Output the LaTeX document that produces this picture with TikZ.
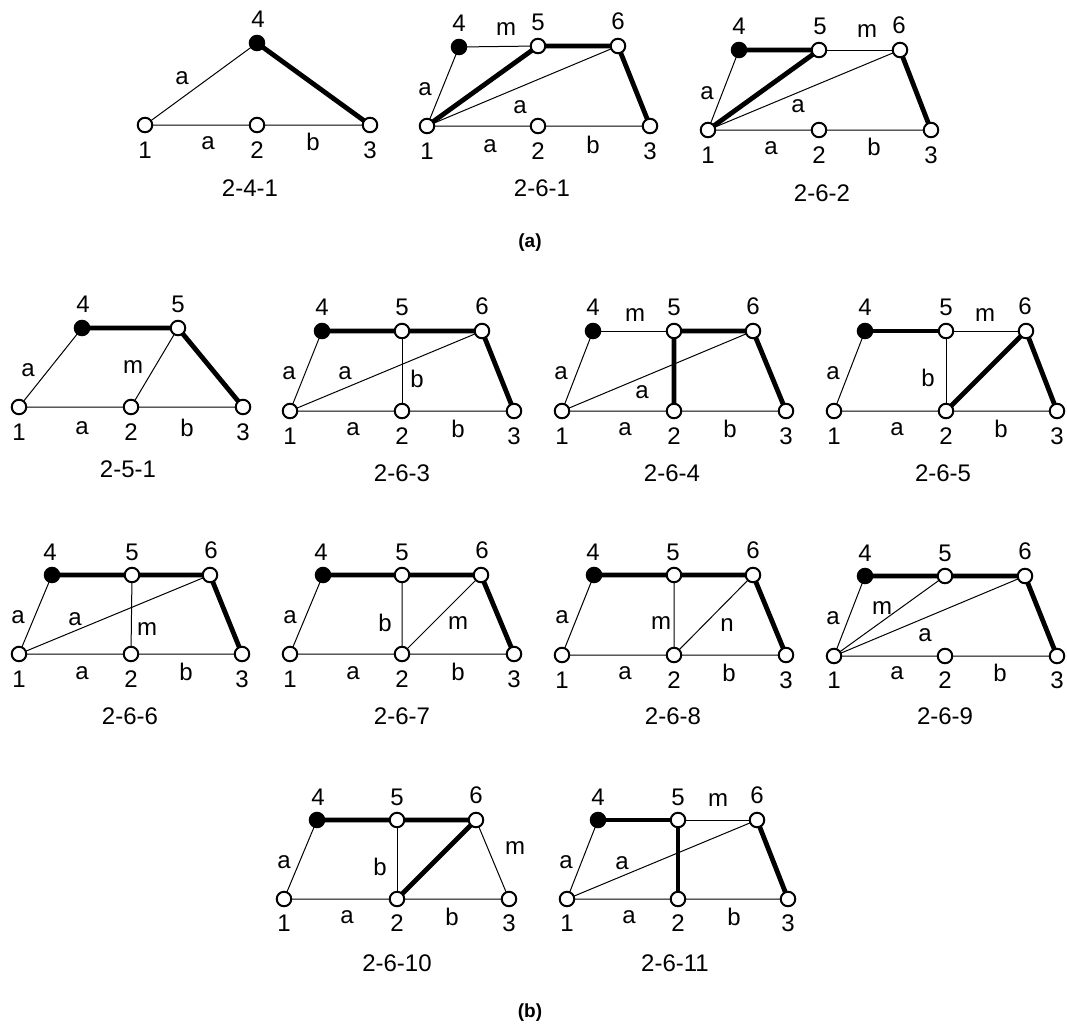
\documentclass[tikz,border=0pt]{standalone}
\usepackage{fontspec}
\setmainfont{Liberation Sans}
\pgfdeclarelayer{edges}
\pgfsetlayers{edges,main}
\tikzset{
  vtx/.style={circle,draw,line width=2pt,fill=white,minimum size=14.5pt,inner sep=0pt},
  hub/.style={vtx,fill=black},
  lnk/.style={line width=1pt,line join=round},
  heavy/.style={line width=4.8pt,line join=round},
  lbl/.style={inner sep=0pt,font=\fontsize{24}{28}\selectfont},
  ttl/.style={inner sep=0pt,font=\fontsize{24}{28}\selectfont},
  part/.style={inner sep=0pt,font=\fontsize{19}{22}\selectfont\bfseries},
}
\begin{document}
\begin{tikzpicture}[x=1pt,y=-1pt]
\useasboundingbox (0,0) rectangle (1067,1028);

% ---------- 2-4-1 ----------
\node[vtx] (A1) at (145,125) {};
\node[vtx] (A2) at (257,125) {};
\node[vtx] (A3) at (370,125) {};
\node[hub] (A4) at (257,43) {};
\begin{pgfonlayer}{edges}
\draw[lnk] (A4.center) -- (A1.center) -- (A2.center) -- (A3.center);
\draw[heavy] (A4.center) -- (A3.center);
\end{pgfonlayer}
\node[lbl] at (258,19) {4};
\node[lbl] at (182,78) {a};
\node[lbl] at (208,143) {a};
\node[lbl] at (313,142) {b};
\node[lbl] at (145,150) {1};
\node[lbl] at (257,150) {2};
\node[lbl] at (370,150) {3};
\node[ttl] (tA) at (250,188) {2-4-1};

% ---------- 2-6-1 ----------
\node[vtx] (B1) at (427,126) {};
\node[vtx] (B2) at (538,126) {};
\node[vtx] (B3) at (650,126) {};
\node[hub] (B4) at (459,47) {};
\node[vtx] (B5) at (538,46) {};
\node[vtx] (B6) at (618,46) {};
\begin{pgfonlayer}{edges}
\draw[lnk] (B4.center) -- (B1.center) -- (B2.center) -- (B3.center);
\draw[lnk] (B4.center) -- (B5.center);
\draw[lnk] (B1.center) -- (B6.center);
\draw[heavy] (B1.center) -- (B5.center) -- (B6.center) -- (B3.center);
\end{pgfonlayer}
\node[lbl] at (459,23) {4};
\node[lbl] at (506,29) {m};
\node[lbl] at (538,22) {5};
\node[lbl] at (618,21) {6};
\node[lbl] at (425,89) {a};
\node[lbl] at (520,107) {a};
\node[lbl] at (490,146) {a};
\node[lbl] at (593,145) {b};
\node[lbl] at (427,151) {1};
\node[lbl] at (538,151) {2};
\node[lbl] at (650,151) {3};
\node[ttl] (tB) at (542,188) {2-6-1};

% ---------- 2-6-2 ----------
\node[vtx] (C1) at (708,130) {};
\node[vtx] (C2) at (819,130) {};
\node[vtx] (C3) at (931,130) {};
\node[hub] (C4) at (739,50) {};
\node[vtx] (C5) at (819,50) {};
\node[vtx] (C6) at (900,50) {};
\begin{pgfonlayer}{edges}
\draw[lnk] (C4.center) -- (C1.center) -- (C2.center) -- (C3.center);
\draw[lnk] (C5.center) -- (C6.center);
\draw[lnk] (C1.center) -- (C6.center);
\draw[heavy] (C4.center) -- (C5.center) -- (C1.center);
\draw[heavy] (C6.center) -- (C3.center);
\end{pgfonlayer}
\node[lbl] at (739,26) {4};
\node[lbl] at (820,26) {5};
\node[lbl] at (867,31) {m};
\node[lbl] at (899,25) {6};
\node[lbl] at (707,93) {a};
\node[lbl] at (798,106) {a};
\node[lbl] at (771,148) {a};
\node[lbl] at (874,147) {b};
\node[lbl] at (708,155) {1};
\node[lbl] at (819,155) {2};
\node[lbl] at (931,155) {3};
\node[ttl] (tC) at (822,193) {2-6-2};

\node[part] (pa) at (530,243) {(a)};

% ---------- 2-5-1 ----------
\node[vtx] (D1) at (19,407) {};
\node[vtx] (D2) at (131,407) {};
\node[vtx] (D3) at (243,407) {};
\node[hub] (D4) at (82,328) {};
\node[vtx] (D5) at (178,328) {};
\begin{pgfonlayer}{edges}
\draw[lnk] (D4.center) -- (D1.center) -- (D2.center) -- (D3.center);
\draw[lnk] (D2.center) -- (D5.center);
\draw[heavy] (D4.center) -- (D5.center) -- (D3.center);
\end{pgfonlayer}
\node[lbl] at (83,304) {4};
\node[lbl] at (178,304) {5};
\node[lbl] at (28,370) {a};
\node[lbl] at (133,367) {m};
\node[lbl] at (82,428) {a};
\node[lbl] at (187,428) {b};
\node[lbl] at (19,432) {1};
\node[lbl] at (131,432) {2};
\node[lbl] at (243,432) {3};
\node[ttl] (tD) at (128,469) {2-5-1};

% ---------- 2-6-3 ----------
\node[vtx] (E1) at (290,411) {};
\node[vtx] (E2) at (402,411) {};
\node[vtx] (E3) at (514,411) {};
\node[hub] (E4) at (322,331) {};
\node[vtx] (E5) at (402,331) {};
\node[vtx] (E6) at (482,331) {};
\begin{pgfonlayer}{edges}
\draw[lnk] (E4.center) -- (E1.center) -- (E2.center) -- (E3.center);
\draw[lnk] (E1.center) -- (E6.center);
\draw[lnk] (E5.center) -- (E2.center);
\draw[heavy] (E4.center) -- (E5.center) -- (E6.center) -- (E3.center);
\end{pgfonlayer}
\node[lbl] at (322,307) {4};
\node[lbl] at (402,307) {5};
\node[lbl] at (482,306) {6};
\node[lbl] at (289,373) {a};
\node[lbl] at (345,373) {a};
\node[lbl] at (417,379) {b};
\node[lbl] at (353,429) {a};
\node[lbl] at (458,429) {b};
\node[lbl] at (290,436) {1};
\node[lbl] at (402,436) {2};
\node[lbl] at (514,436) {3};
\node[ttl] (tE) at (402,473) {2-6-3};

% ---------- 2-6-4 ----------
\node[vtx] (F1) at (562,411) {};
\node[vtx] (F2) at (674,411) {};
\node[vtx] (F3) at (786,411) {};
\node[hub] (F4) at (593,331) {};
\node[vtx] (F5) at (674,331) {};
\node[vtx] (F6) at (753,331) {};
\begin{pgfonlayer}{edges}
\draw[lnk] (F4.center) -- (F1.center) -- (F2.center) -- (F3.center);
\draw[lnk] (F4.center) -- (F5.center);
\draw[lnk] (F1.center) -- (F6.center);
\draw[heavy] (F2.center) -- (F5.center) -- (F6.center) -- (F3.center);
\end{pgfonlayer}
\node[lbl] at (593,307) {4};
\node[lbl] at (635,315) {m};
\node[lbl] at (674,307) {5};
\node[lbl] at (753,306) {6};
\node[lbl] at (561,373) {a};
\node[lbl] at (642,392) {a};
\node[lbl] at (625,429) {a};
\node[lbl] at (730,429) {b};
\node[lbl] at (562,436) {1};
\node[lbl] at (674,436) {2};
\node[lbl] at (786,436) {3};
\node[ttl] (tF) at (672,473) {2-6-4};

% ---------- 2-6-5 ----------
\node[vtx] (G1) at (834,411) {};
\node[vtx] (G2) at (946,411) {};
\node[vtx] (G3) at (1057,411) {};
\node[hub] (G4) at (865,331) {};
\node[vtx] (G5) at (946,331) {};
\node[vtx] (G6) at (1026,331) {};
\begin{pgfonlayer}{edges}
\draw[lnk] (G4.center) -- (G1.center) -- (G2.center) -- (G3.center);
\draw[lnk] (G2.center) -- (G5.center) -- (G6.center);
\draw[heavy] (G4.center) -- (G5.center);
\draw[heavy] (G2.center) -- (G6.center) -- (G3.center);
\end{pgfonlayer}
\node[lbl] at (865,307) {4};
\node[lbl] at (946,307) {5};
\node[lbl] at (985,315) {m};
\node[lbl] at (1025,306) {6};
\node[lbl] at (833,373) {a};
\node[lbl] at (928,378) {b};
\node[lbl] at (897,429) {a};
\node[lbl] at (1001,429) {b};
\node[lbl] at (834,436) {1};
\node[lbl] at (946,436) {2};
\node[lbl] at (1057,436) {3};
\node[ttl] (tG) at (943,473) {2-6-5};

% ---------- 2-6-6 ----------
\node[vtx] (H1) at (19,654) {};
\node[vtx] (H2) at (131,654) {};
\node[vtx] (H3) at (242,654) {};
\node[hub] (H4) at (52,575) {};
\node[vtx] (H5) at (132,575) {};
\node[vtx] (H6) at (210,575) {};
\begin{pgfonlayer}{edges}
\draw[lnk] (H4.center) -- (H1.center) -- (H2.center) -- (H3.center);
\draw[lnk] (H1.center) -- (H6.center);
\draw[lnk] (H5.center) -- (H2.center);
\draw[heavy] (H4.center) -- (H5.center) -- (H6.center) -- (H3.center);
\end{pgfonlayer}
\node[lbl] at (50,552) {4};
\node[lbl] at (132,552) {5};
\node[lbl] at (211,550) {6};
\node[lbl] at (18,617) {a};
\node[lbl] at (75,619) {a};
\node[lbl] at (147,629) {m};
\node[lbl] at (82,673) {a};
\node[lbl] at (186,672) {b};
\node[lbl] at (19,679) {1};
\node[lbl] at (131,679) {2};
\node[lbl] at (242,679) {3};
\node[ttl] (tH) at (130,716) {2-6-6};

% ---------- 2-6-7 ----------
\node[vtx] (I1) at (290,654) {};
\node[vtx] (I2) at (402,654) {};
\node[vtx] (I3) at (514,654) {};
\node[hub] (I4) at (323,575) {};
\node[vtx] (I5) at (402,575) {};
\node[vtx] (I6) at (481,575) {};
\begin{pgfonlayer}{edges}
\draw[lnk] (I4.center) -- (I1.center) -- (I2.center) -- (I3.center);
\draw[lnk] (I5.center) -- (I2.center) -- (I6.center);
\draw[heavy] (I4.center) -- (I5.center) -- (I6.center) -- (I3.center);
\end{pgfonlayer}
\node[lbl] at (321,552) {4};
\node[lbl] at (402,552) {5};
\node[lbl] at (482,550) {6};
\node[lbl] at (290,617) {a};
\node[lbl] at (385,623) {b};
\node[lbl] at (458,623) {m};
\node[lbl] at (353,673) {a};
\node[lbl] at (458,672) {b};
\node[lbl] at (290,679) {1};
\node[lbl] at (402,679) {2};
\node[lbl] at (514,679) {3};
\node[ttl] (tI) at (402,716) {2-6-7};

% ---------- 2-6-8 ----------
\node[vtx] (J1) at (562,655) {};
\node[vtx] (J2) at (674,655) {};
\node[vtx] (J3) at (786,655) {};
\node[hub] (J4) at (594,575) {};
\node[vtx] (J5) at (674,575) {};
\node[vtx] (J6) at (753,575) {};
\begin{pgfonlayer}{edges}
\draw[lnk] (J4.center) -- (J1.center) -- (J2.center) -- (J3.center);
\draw[lnk] (J5.center) -- (J2.center) -- (J6.center);
\draw[heavy] (J4.center) -- (J5.center) -- (J6.center) -- (J3.center);
\end{pgfonlayer}
\node[lbl] at (593,552) {4};
\node[lbl] at (673,552) {5};
\node[lbl] at (753,550) {6};
\node[lbl] at (562,617) {a};
\node[lbl] at (661,623) {m};
\node[lbl] at (727,625) {n};
\node[lbl] at (625,673) {a};
\node[lbl] at (729,673) {b};
\node[lbl] at (562,680) {1};
\node[lbl] at (674,680) {2};
\node[lbl] at (786,680) {3};
\node[ttl] (tJ) at (673,716) {2-6-8};

% ---------- 2-6-9 ----------
\node[vtx] (K1) at (834,656) {};
\node[vtx] (K2) at (945,656) {};
\node[vtx] (K3) at (1057,656) {};
\node[hub] (K4) at (865,576) {};
\node[vtx] (K5) at (945,576) {};
\node[vtx] (K6) at (1025,576) {};
\begin{pgfonlayer}{edges}
\draw[lnk] (K4.center) -- (K1.center) -- (K2.center) -- (K3.center);
\draw[lnk] (K1.center) -- (K5.center);
\draw[lnk] (K1.center) -- (K6.center);
\draw[heavy] (K4.center) -- (K5.center) -- (K6.center) -- (K3.center);
\end{pgfonlayer}
\node[lbl] at (865,553) {4};
\node[lbl] at (945,553) {5};
\node[lbl] at (1025,551) {6};
\node[lbl] at (833,618) {a};
\node[lbl] at (882,608) {m};
\node[lbl] at (925,635) {a};
\node[lbl] at (897,673) {a};
\node[lbl] at (1000,673) {b};
\node[lbl] at (834,680) {1};
\node[lbl] at (945,680) {2};
\node[lbl] at (1057,680) {3};
\node[ttl] (tK) at (945,716) {2-6-9};

% ---------- 2-6-10 ----------
\node[vtx] (L1) at (284,899) {};
\node[vtx] (L2) at (397,899) {};
\node[vtx] (L3) at (509,899) {};
\node[hub] (L4) at (317,820) {};
\node[vtx] (L5) at (397,820) {};
\node[vtx] (L6) at (476,820) {};
\begin{pgfonlayer}{edges}
\draw[lnk] (L4.center) -- (L1.center) -- (L2.center) -- (L3.center);
\draw[lnk] (L5.center) -- (L2.center);
\draw[lnk] (L6.center) -- (L3.center);
\draw[heavy] (L4.center) -- (L5.center) -- (L6.center) -- (L2.center);
\end{pgfonlayer}
\node[lbl] at (318,797) {4};
\node[lbl] at (397,797) {5};
\node[lbl] at (476,795) {6};
\node[lbl] at (284,862) {a};
\node[lbl] at (380,867) {b};
\node[lbl] at (515,848) {m};
\node[lbl] at (347,917) {a};
\node[lbl] at (452,917) {b};
\node[lbl] at (284,923) {1};
\node[lbl] at (397,923) {2};
\node[lbl] at (509,923) {3};
\node[ttl] (tL) at (397,963) {2-6-10};

% ---------- 2-6-11 ----------
\node[vtx] (M1) at (567,899) {};
\node[vtx] (M2) at (678,899) {};
\node[vtx] (M3) at (788,899) {};
\node[hub] (M4) at (598,820) {};
\node[vtx] (M5) at (678,820) {};
\node[vtx] (M6) at (757,820) {};
\begin{pgfonlayer}{edges}
\draw[lnk] (M4.center) -- (M1.center) -- (M2.center) -- (M3.center);
\draw[lnk] (M5.center) -- (M6.center);
\draw[lnk] (M1.center) -- (M6.center);
\draw[heavy] (M4.center) -- (M5.center) -- (M2.center);
\draw[heavy] (M6.center) -- (M3.center);
\end{pgfonlayer}
\node[lbl] at (598,797) {4};
\node[lbl] at (678,797) {5};
\node[lbl] at (718,800) {m};
\node[lbl] at (757,795) {6};
\node[lbl] at (566,862) {a};
\node[lbl] at (622,863) {a};
\node[lbl] at (629,917) {a};
\node[lbl] at (734,917) {b};
\node[lbl] at (567,923) {1};
\node[lbl] at (678,923) {2};
\node[lbl] at (788,923) {3};
\node[ttl] (tM) at (675,963) {2-6-11};

\node[part] (pb) at (530,1013) {(b)};
\end{tikzpicture}
\end{document}
